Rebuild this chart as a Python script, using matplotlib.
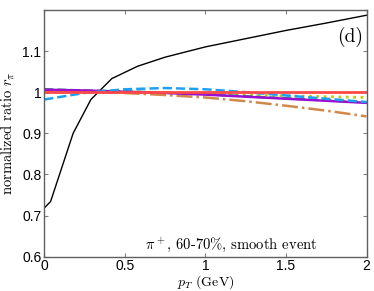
import numpy as np
import matplotlib.pyplot as plt

plt.rcParams['mathtext.fontset'] = 'cm'
plt.rcParams['font.family'] = ['Liberation Sans', 'DejaVu Sans']

# black: full ratio
pt_k = [0.0, 0.04, 0.18, 0.29, 0.42, 0.58, 0.75, 0.9, 1.0, 1.25, 1.5, 1.75, 2.0]
r_k = [0.718, 0.734, 0.900, 0.982, 1.033, 1.063, 1.085, 1.100, 1.110, 1.130, 1.150, 1.168, 1.187]

pt = [0.0, 0.25, 0.5, 0.75, 1.0, 1.25, 1.5, 1.75, 2.0]
r_red = [1.0, 1.0, 1.0, 1.0, 1.0, 1.0, 1.0, 1.0, 1.0]
r_blue = [0.982, 0.998, 1.007, 1.010, 1.007, 1.000, 0.992, 0.984, 0.976]
r_purple = [1.006, 1.004, 1.001, 0.998, 0.994, 0.989, 0.984, 0.979, 0.974]
r_green = [1.007, 1.004, 1.002, 0.999, 0.995, 0.990, 0.985, 0.980, 0.975]
r_yellow = [1.004, 1.002, 1.000, 0.998, 0.996, 0.994, 0.991, 0.989, 0.987]
r_orange = [1.005, 1.002, 0.998, 0.993, 0.987, 0.978, 0.967, 0.955, 0.941]

fig = plt.figure(figsize=(3.74, 2.91), dpi=100)
ax = fig.add_axes([0.118, 0.118, 0.862, 0.848])

ax.plot(pt_k, r_k, '-', color='k', lw=1.0)
ax.plot(pt, r_orange, '-.', color='#D2884A', lw=1.8)
ax.plot(pt, r_yellow, ':', color='#C8C810', lw=2.0)
ax.plot(pt, r_green, '--', color='#2E8B6A', lw=1.8)
ax.plot(pt, r_purple, '-', color='#9A10D0', lw=1.8)
ax.plot(pt, r_blue, '--', color='#1EA0F0', lw=1.8)
ax.plot(pt, r_red, '-', color='#FF4848', lw=2.0)

ax.set_xlim(0, 2)
ax.set_ylim(0.6, 1.2)
ax.set_xticks([0, 0.5, 1, 1.5, 2])
ax.set_xticklabels(['0', '0.5', '1', '1.5', '2'])
ax.set_yticks([0.6, 0.7, 0.8, 0.9, 1.0, 1.1, 1.2])
ax.set_yticklabels(['0.6', '0.7', '0.8', '0.9', '1', '1.1', ''])
ax.tick_params(direction='in', top=True, right=True, labelsize=10, length=3,
               color='#808080', pad=2)
for s in ax.spines.values():
    s.set_color('#606060')
    s.set_linewidth(1.0)

ax.set_xlabel(r'$p_T$ (GeV)', family='cmr10', fontsize=10, labelpad=0)
ax.set_ylabel(r'normalized ratio $r_\pi$', family='cmr10', fontsize=10.5, labelpad=3)
ax.text(0.99, 0.93, '(d)', transform=ax.transAxes, ha='right', va='top',
        family='cmr10', fontsize=14)
ax.text(0.58, 0.047, r'$\pi^+$, 60-70%, smooth event', transform=ax.transAxes,
        ha='center', va='center', family='cmr10', fontsize=10.5)

fig.savefig('out.png', dpi=100)
